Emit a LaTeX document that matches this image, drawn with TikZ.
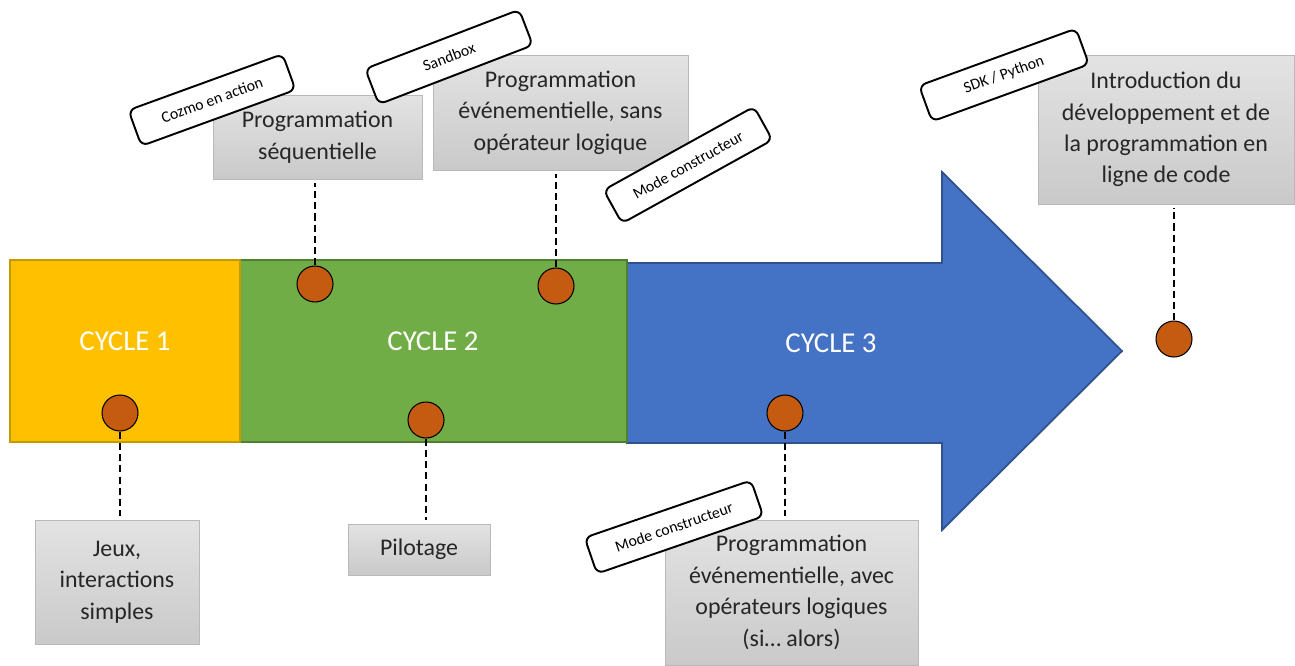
\documentclass[tikz,border=0pt]{standalone}
\usepackage{fontspec}
\setmainfont{Carlito}
\usepackage{tikz}
\usetikzlibrary{
  positioning,
  calc
}
\definecolor{cycyellow}{HTML}{FFC000}
\definecolor{cycyellowline}{HTML}{C49A00}
\definecolor{cycgreen}{HTML}{70AD47}
\definecolor{cycgreenline}{HTML}{507E32}
\definecolor{cycblue}{HTML}{4472C4}
\definecolor{cycblueline}{HTML}{2F528F}
\definecolor{jalonorange}{HTML}{C55A11}

\begin{document}
\begin{tikzpicture}[x=0.02cm, y=-0.02cm,
  grisbox/.style={draw=gray!55, top color=gray!22, bottom color=gray!42,
    align=center, inner sep=0pt, text=black!85,
    font=\fontsize{13.6}{17.9}\selectfont},
  tag/.style={draw=black, line width=1.1pt, fill=white, rounded corners=4pt,
    minimum height=0.76cm, inner sep=1pt,
    font=\fontsize{9}{10}\selectfont},
  jalon/.style={circle, draw=black, line width=0.6pt, fill=jalonorange,
    minimum size=0.72cm, inner sep=0pt},
  pointille/.style={line width=1.3pt, dash pattern=on 4pt off 2.4pt,
    shorten >=2pt},
  cyclabel/.style={text=white, font=\fontsize{16.4}{19}\selectfont}]

  \useasboundingbox (0,0) rectangle (1295,666);

  %% ===== CYCLES =====
  \filldraw[fill=cycblue, draw=cycblueline, line width=1pt]
    (627,263) -- (942,263) -- (942,172) -- (1122,351) -- (942,530)
    -- (942,443) -- (627,443) -- cycle;
  \filldraw[fill=cycgreen, draw=cycgreenline, line width=1pt]
    (240,260) rectangle (627,442);
  \filldraw[fill=cycyellow, draw=cycyellowline, line width=1pt]
    (10,260) rectangle (240,442);

  \node[cyclabel] (lab1) at (125,341) {CYCLE 1};
  \node[cyclabel] (lab2) at (433,341) {CYCLE 2};
  \node[cyclabel] (lab3) at (831,343) {CYCLE 3};

  %% ===== CONTENUS =====
  \node[grisbox, minimum width=3.28cm, minimum height=2.48cm] (jeux)
    at (117,582) {Jeux,\\interactions\\simples};
  \node[grisbox, minimum width=2.84cm, minimum height=1.02cm] (pilot)
    at (419,549.5) {Pilotage};
  \node[grisbox, minimum width=4.18cm, minimum height=1.68cm] (seq)
    at (317.5,137) {Programmation\\séquentielle};
  \node[grisbox, minimum width=5.10cm, minimum height=2.30cm] (sans)
    at (560.5,112.5) {Programmation\\événementielle, sans\\opérateur logique};
  \node[grisbox, minimum width=5.12cm, minimum height=2.98cm] (intro)
    at (1166,129.5) {Introduction du\\développement et de\\la programmation en\\ligne de code};
  \node[grisbox, minimum width=5.06cm, minimum height=2.90cm] (avec)
    at (791.5,592.5) {Programmation\\événementielle, avec\\opérateurs logiques\\(si… alors)};

  % Etiquettes
  \node[tag, rotate=20, minimum width=3.28cm] (tcozmo) at (212,100) {Cozmo en action};
  \node[tag, rotate=21, minimum width=3.30cm] (tsand) at (449,57) {Sandbox};
  \node[tag, rotate=29, minimum width=3.44cm] (tmode1) at (688,165) {Mode constructeur};
  \node[tag, rotate=20, minimum width=3.34cm] (tsdk) at (1004,75) {SDK / Python};
  \node[tag, rotate=19, minimum width=3.52cm] (tmode2) at (674,527) {Mode constructeur};

  %% ===== JALONS =====
  \node[jalon] (j1) at (120,413) {};
  \node[jalon] (j2) at (315,284) {};
  \node[jalon] (j3) at (426,420) {};
  \node[jalon] (j4) at (556,286) {};
  \node[jalon] (j5) at (785,413) {};
  \node[jalon] (j6) at (1174,339) {};

  \draw[pointille] (j1.south) -- (j1.south |- jeux.north);
  \draw[pointille] (j2.north) -- (j2.north |- seq.south);
  \draw[pointille] (j3.south) -- (j3.south |- pilot.north);
  \draw[pointille] (j4.north) -- (j4.north |- sans.south);
  \draw[pointille] (j5.south) -- (j5.south |- avec.north);
  \draw[pointille] (j6.north) -- (j6.north |- intro.south);

\end{tikzpicture}
\end{document}
